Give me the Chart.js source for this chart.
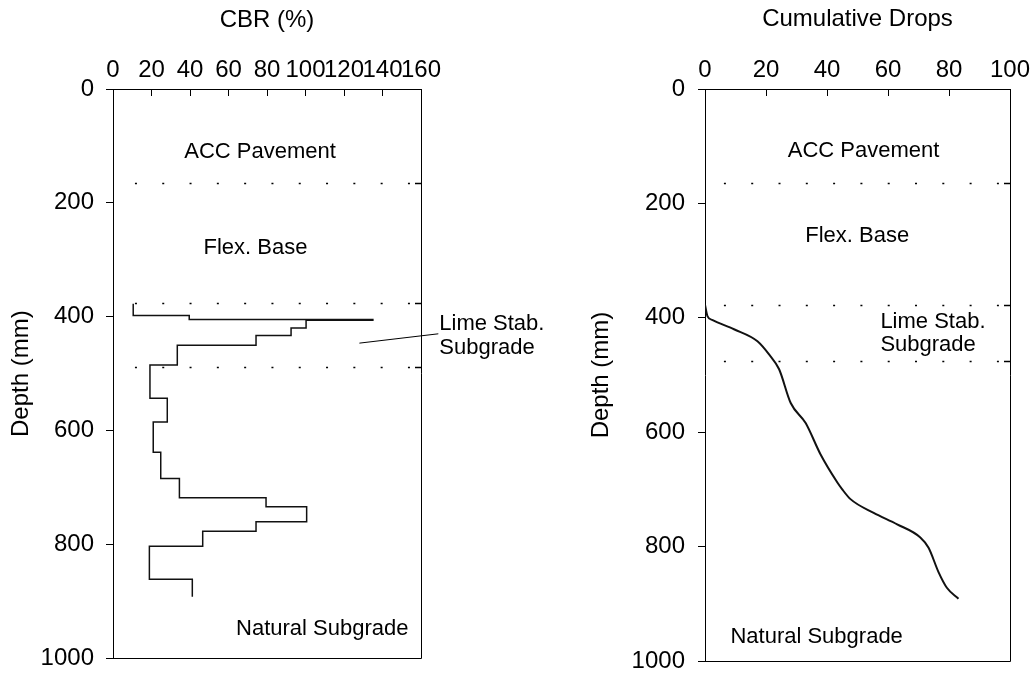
<!DOCTYPE html>
<html>
<head>
<meta charset="utf-8">
<script src="https://cdn.jsdelivr.net/npm/chart.js@4.4.1/dist/chart.umd.min.js"></script>
<style>
  html, body { margin: 0; padding: 0; background: #fff; overflow: hidden; width: 1032px; height: 674px; position: relative; }
  .panel { position: absolute; top: 0; height: 700px; }
  #cbrPanel { left: 0; width: 560px; }
  #dropsPanel { left: 580px; width: 480px; }
</style>
</head>
<body>
<div class="panel" id="cbrPanel"><canvas id="cbrChart"></canvas></div>
<div class="panel" id="dropsPanel"><canvas id="dropsChart"></canvas></div>
<script>
// CBR profile: top of the test, then bottom depth (mm) and CBR (%) of each layer
const profileTop = 377;
const layerBottoms = [398, 405, 406, 420, 433, 450, 485, 543, 585, 638, 684, 718, 734, 760, 777, 803, 861, 892];
const layerCbr = [10.5, 39.6, 135, 100.3, 92.5, 74.3, 33.4, 19.2, 28.2, 20.9, 24.8, 34.5, 79.5, 100.6, 74.3, 46.6, 18.9, 41.2];

// DCP penetration curve
const dropCount = [0, 0.8, 2.5, 9.5, 17.2, 21, 24.3, 28.1, 33, 37.9, 43.4, 45, 47.7, 55.3, 63, 70.6, 73.3, 76.6, 79.3, 83.1];
const dropDepth = [377, 397, 404, 420, 441, 464, 490, 549, 584, 639, 688, 700, 717, 741, 761, 784, 802, 845, 872, 891];

// axis ticks
const depthTicks = [0, 200, 400, 600, 800, 1000];
const cbrTicks = [0, 20, 40, 60, 80, 100, 120, 140, 160];
const dropTicks = [0, 20, 40, 60, 80, 100];

// pavement layer boundaries (mm)
const cbrLayerLines = [165, 376, 489];
const dropLayerLines = [165, 377, 475];

const FONT = '"Liberation Sans", Arial, sans-serif';
const axisFont = { family: FONT, size: 24 };

// turn layers into step vertices
const cbrPoints = [];
let layerTop = profileTop;
layerBottoms.forEach((bottom, i) => {
  cbrPoints.push({ x: layerCbr[i], y: layerTop }, { x: layerCbr[i], y: bottom });
  layerTop = bottom;
});
const dropPoints = dropCount.map((d, i) => ({ x: d, y: dropDepth[i] }));

// frame, dotted layer lines and layer names
function decor(cfg) {
  return {
    id: 'decor',
    beforeDatasetsDraw(chart) {
      const { ctx, chartArea: a, scales: { x, y } } = chart;
      ctx.save();
      ctx.strokeStyle = '#000';
      ctx.lineWidth = 1.5;
      cfg.lines.forEach(d => {
        const py = Math.round(y.getPixelForValue(d)) + 0.5;
        ctx.setLineDash([2, 25.3]);
        ctx.beginPath();
        ctx.moveTo(x.getPixelForValue(cfg.lineStart), py);
        ctx.lineTo(a.right - 7, py);
        ctx.stroke();
        ctx.setLineDash([]);
        ctx.beginPath();
        ctx.moveTo(a.right - 6, py);
        ctx.lineTo(a.right, py);
        ctx.stroke();
      });
      ctx.restore();
    },
    afterDraw(chart) {
      const { ctx, chartArea: a, scales: { x, y } } = chart;
      ctx.save();
      ctx.strokeStyle = '#000';
      ctx.lineWidth = 1;
      ctx.beginPath();
      ctx.moveTo(a.left, Math.round(a.bottom) + 0.5);
      ctx.lineTo(Math.round(a.right) + 0.5, Math.round(a.bottom) + 0.5);
      ctx.lineTo(Math.round(a.right) + 0.5, a.top);
      ctx.stroke();

      ctx.fillStyle = '#000';
      ctx.font = '22px ' + FONT;
      ctx.textBaseline = 'middle';
      cfg.labels.forEach(l => {
        ctx.textAlign = l.align || 'center';
        ctx.fillText(l.text, x.getPixelForValue(l.x), y.getPixelForValue(l.y));
      });
      if (cfg.leader) {
        const [x1, y1, x2, y2] = cfg.leader;
        ctx.lineWidth = 1;
        ctx.beginPath();
        ctx.moveTo(x.getPixelForValue(x1), y.getPixelForValue(y1));
        ctx.lineTo(x.getPixelForValue(x2), y.getPixelForValue(y2));
        ctx.stroke();
      }
      ctx.restore();
    }
  };
}

function depthChart(canvasId, opt) {
  return new Chart(document.getElementById(canvasId), {
    type: 'scatter',
    data: {
      datasets: [{
        data: opt.points,
        showLine: true,
        borderColor: '#111',
        borderWidth: opt.lineWidth,
        pointRadius: 0,
        tension: opt.smooth ? 0.4 : 0,
        cubicInterpolationMode: opt.smooth ? 'monotone' : 'default'
      }]
    },
    options: {
      responsive: true,
      maintainAspectRatio: false,
      animation: false,
      layout: { padding: opt.padding },
      plugins: { legend: { display: false }, tooltip: { enabled: false } },
      scales: {
        x: {
          type: 'linear',
          position: 'top',
          min: 0,
          max: opt.xMax,
          afterBuildTicks: s => { s.ticks = opt.xTicks.map(v => ({ value: v })); },
          afterFit: s => { s.height = 89; },
          grid: { drawOnChartArea: false, tickLength: -7, color: '#000' },
          border: { color: '#000', width: 1 },
          ticks: { color: '#000', font: axisFont, padding: 11, maxRotation: 0, autoSkip: false, callback: v => String(v) },
          title: { display: true, text: opt.xTitle, color: '#000', font: axisFont, padding: opt.xTitlePad }
        },
        y: {
          type: 'linear',
          reverse: true,
          min: 0,
          max: 1000,
          afterBuildTicks: s => { s.ticks = depthTicks.map(v => ({ value: v })); },
          afterFit: s => { s.width = opt.yWidth; },
          grid: { drawOnChartArea: false, tickLength: 7, color: '#000' },
          border: { color: '#000', width: 1 },
          ticks: { color: '#000', font: axisFont, padding: opt.yTickPad, callback: v => String(v) },
          title: { display: true, text: 'Depth (mm)', color: '#000', font: axisFont, padding: opt.yTitlePad }
        }
      }
    },
    plugins: [decor(opt.decor)]
  });
}

depthChart('cbrChart', {
  points: cbrPoints,
  lineWidth: 1.5,
  smooth: false,
  xMax: 160,
  xTicks: cbrTicks,
  xTitle: 'CBR (%)',
  xTitlePad: { top: 5.6, bottom: 4 },
  yWidth: 113,
  yTickPad: 12,
  yTitlePad: { top: 7, bottom: 4 },
  padding: { left: 0, top: 0, right: 139, bottom: 41.7 },
  decor: {
    lines: cbrLayerLines,
    lineStart: 11.4,
    labels: [
      { text: 'ACC Pavement', x: 76.4, y: 110 },
      { text: 'Flex. Base', x: 74, y: 280 },
      { text: 'Natural Subgrade', x: 108.7, y: 949 },
      { text: 'Lime Stab.', x: 169.5, y: 412.5, align: 'left' },
      { text: 'Subgrade', x: 169.5, y: 455.5, align: 'left' }
    ],
    leader: [128, 446.4, 169, 430]
  }
});

depthChart('dropsChart', {
  points: dropPoints,
  lineWidth: 2,
  smooth: true,
  xMax: 100,
  xTicks: dropTicks,
  xTitle: 'Cumulative Drops',
  xTitlePad: { top: 4.5, bottom: 4 },
  yWidth: 125,
  yTickPad: 13,
  yTitlePad: { top: 6.6, bottom: 4 },
  padding: { left: 0, top: 0, right: 50, bottom: 39 },
  decor: {
    lines: dropLayerLines,
    lineStart: 6.2,
    labels: [
      { text: 'ACC Pavement', x: 52, y: 109 },
      { text: 'Flex. Base', x: 49.9, y: 257.7 },
      { text: 'Lime Stab.', x: 57.5, y: 406.5, align: 'left' },
      { text: 'Subgrade', x: 57.5, y: 448, align: 'left' },
      { text: 'Natural Subgrade', x: 36.6, y: 958.6 }
    ]
  }
});
</script>
</body>
</html>
